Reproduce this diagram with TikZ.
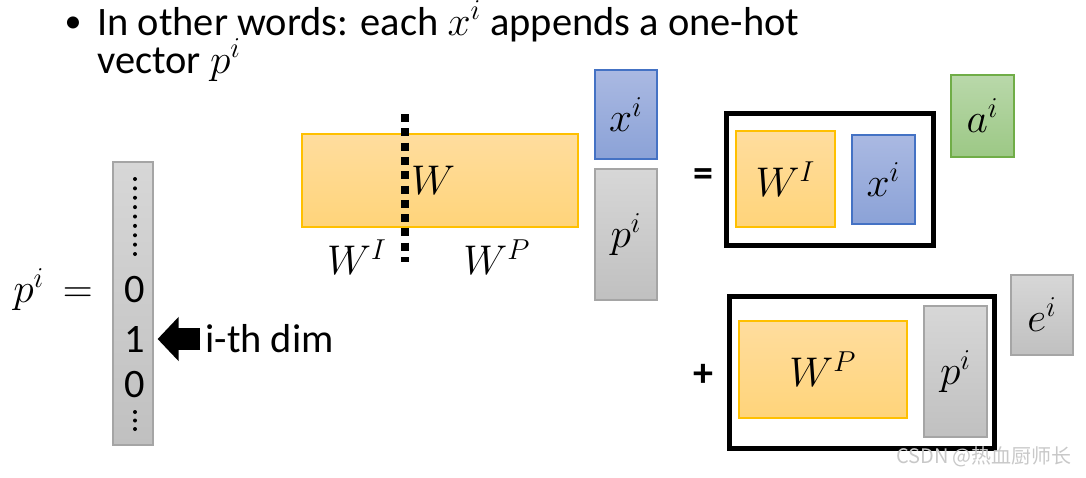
\documentclass[tikz,border=0pt]{standalone}
\usepackage[no-math]{fontspec}
\setmainfont{Carlito}
\newfontfamily\cjkfont{Noto Sans CJK SC}
\usepackage{xcolor}
\usepackage{tikz}
\usetikzlibrary{positioning,arrows.meta}
\definecolor{cgold}{RGB}{255,192,0}
\definecolor{corangetop}{RGB}{255,221,158}
\definecolor{corangebot}{RGB}{255,212,122}
\definecolor{cblueline}{RGB}{68,114,196}
\definecolor{cbluetop}{RGB}{170,185,226}
\definecolor{cbluebot}{RGB}{139,162,215}
\definecolor{cgrayline}{RGB}{165,165,165}
\definecolor{cgraytop}{RGB}{215,215,215}
\definecolor{cgraybot}{RGB}{192,192,192}
\definecolor{cgreenline}{RGB}{112,173,71}
\definecolor{cgreentop}{RGB}{185,216,170}
\definecolor{cgreenbot}{RGB}{156,200,133}
\definecolor{cmark}{RGB}{200,200,200}
\newcommand\introfont{\fontsize{20.2}{19}\selectfont\lineskiplimit=-30pt\relax}
\tikzset{
  mat/.style={rectangle, inner sep=0pt, line width=0.6pt, font=\fontsize{21}{25}\selectfont},
  omat/.style={mat, draw=cgold, top color=corangetop, bottom color=corangebot},
  bmat/.style={mat, draw=cblueline, top color=cbluetop, bottom color=cbluebot},
  gmat/.style={mat, draw=cgrayline, top color=cgraytop, bottom color=cgraybot},
  grmat/.style={mat, draw=cgreenline, top color=cgreentop, bottom color=cgreenbot},
  frame/.style={rectangle, draw=black, line width=2.5pt, inner sep=0pt},
  lbl/.style={inner sep=0pt, font=\fontsize{21}{25}\selectfont},
  txt/.style={inner sep=0pt, font=\fontsize{20.2}{24}\selectfont},
  op/.style={inner sep=0pt, font=\fontsize{20}{24}\selectfont\bfseries},
  cut/.style={line width=4pt, dash pattern=on 4pt off 3.15pt},
  arr/.style={-{Triangle[length=10.5pt, width=21.5pt]}, line width=11pt},
}
\begin{document}
\begin{tikzpicture}[x=0.5pt, y=-0.5pt]
  \useasboundingbox (0,0) rectangle (1086,477);
  \node[txt, font=\fontsize{17}{20}\selectfont] (bul) at (73,25) {\textbullet};
  \node[txt, font=\introfont, align=left, anchor=base west] (intro) at (97,73)
    {In other words: each $x^i$ appends a one-hot\\vector $p^i$};

  \node[omat, minimum width=138pt, minimum height=46.5pt] (W) at (440,180.5) {};
  \node[lbl] (Wl) at (433,180) {$W$};
  \coordinate (cuttop) at (405,114);
  \coordinate (cutbot) at (405,262);
  \draw[cut] (cuttop) -- (cutbot);
  \node[lbl] (WIl) at (357,257) {$W^I$};
  \node[lbl] (WPl) at (497,257) {$W^P$};
  \node[bmat, minimum width=31pt, minimum height=44.5pt] (x) at (626,114.5) {$x^i$};
  \node[gmat, minimum width=31pt, minimum height=65.5pt] (p) at (626,234.5) {$p^i$};

  \node[op] (eq) at (703,178) {=};
  \node[frame, minimum width=103.5pt, minimum height=66pt] (box1) at (830,179.5) {};
  \node[omat, minimum width=49.5pt, minimum height=48pt] (WI) at (785.5,179) {$W^I$};
  \node[bmat, minimum width=31.5pt, minimum height=44.5pt] (xin) at (883.5,179.5) {$x^i$};
  \node[grmat, minimum width=31.5pt, minimum height=41pt] (a) at (982.5,116) {$a^i$};

  \node[op] (plus) at (703,375) {+};
  \node[frame, minimum width=132.5pt, minimum height=76pt] (box2) at (862,372.5) {};
  \node[omat, minimum width=84pt, minimum height=48.5pt] (WP) at (823,369.5) {$W^P$};
  \node[gmat, minimum width=31.5pt, minimum height=65.5pt] (pin) at (955.5,371.5) {$p^i$};
  \node[gmat, minimum width=31pt, minimum height=40pt] (e) at (1042,315) {$e^i$};

  \node[lbl] (pdef) at (53,290) {$p^i\,=$};
  \node[gmat, minimum width=20pt, minimum height=141.5pt] (vec) at (133,303.5) {};
  \foreach \k in {0,...,8}
    \fill (135,{179+9.375*\k}) circle (1pt);
  \foreach \yy in {412,420.5,429}
    \fill (135,\yy) circle (1pt);
  \node[txt] (z0) at (135,290) {0};
  \node[txt] (one) at (135,339) {1};
  \node[txt] (z1) at (135,385) {0};
  \node[txt, anchor=west] (dim) at (205,339) {i-th dim};
  \draw[arr, shorten <=2.5pt, shorten >=2pt] (dim.west) -- (vec.east |- one);

  \node[inner sep=0pt, font=\fontsize{10}{12}\cjkfont, text=cmark] (mark) at (984,457) {CSDN @热血厨师长};
\end{tikzpicture}
\end{document}
